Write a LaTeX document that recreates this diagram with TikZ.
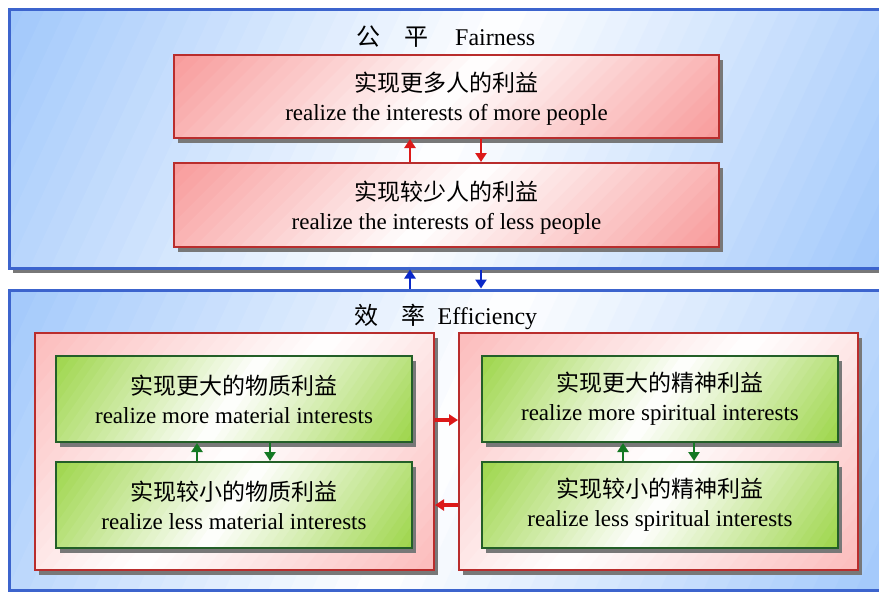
\documentclass[tikz,border=0pt]{standalone}
\usepackage{fontspec}
\setmainfont{Liberation Serif}
\newfontfamily\cjk{Noto Sans CJK SC}
\usetikzlibrary{arrows.meta}
\definecolor{bluebd}{RGB}{60,100,205}
\definecolor{lightblue}{RGB}{135,185,250}
\definecolor{redbd}{RGB}{185,45,45}
\definecolor{redfill}{RGB}{245,110,110}
\definecolor{pinkfill}{RGB}{250,160,160}
\definecolor{greenbd}{RGB}{35,95,40}
\definecolor{greenfill}{RGB}{125,200,15}
\definecolor{arrred}{RGB}{220,25,25}
\definecolor{arrblue}{RGB}{10,40,200}
\definecolor{arrgreen}{RGB}{20,120,35}
\definecolor{shadowc}{RGB}{120,120,120}
\tikzset{
  outerbox/.style={draw=bluebd,line width=3pt,rectangle,inner sep=0pt},
  redbox/.style={draw=redbd,line width=2pt,rectangle,align=center,inner sep=0pt},
  container/.style={draw=redbd,line width=2pt,rectangle,inner sep=0pt},
  greenbox/.style={draw=greenbd,line width=2pt,rectangle,align=center,inner sep=0pt},
  txt/.style={font=\fontsize{23}{29}\selectfont},
  ttl/.style={font=\fontsize{24}{28}\selectfont,inner sep=0pt},
  redarr/.style={draw=arrred,line width=2.5pt,-{Triangle[width=11pt,length=9pt]}},
  bluearr/.style={draw=arrblue,line width=2.5pt,-{Triangle[width=11pt,length=9pt]}},
  greenarr/.style={draw=arrgreen,line width=2.5pt,-{Triangle[width=11pt,length=9pt]}},
}
% #1 name, #2 x1, #3 y1, #4 x2, #5 y2, #6 colour, #7 angle, #8 style, #9 text
\newcommand\gbox[9]{%
  \pgfmathsetmacro\gbx{(#2+#4)/2}%
  \pgfmathsetmacro\gby{(#3+#5)/2}%
  \pgfmathsetmacro\gbw{#4-#2}%
  \pgfmathsetmacro\gbh{#5-#3}%
  \pgfmathsetmacro\gbL{(\gbw+\gbh)/2+4}%
  \pgfmathsetmacro\gbd{2*\gbL/60}%
  \fill[shadowc] (#2+4,#3+5) rectangle (#4+4,#5+5);
  \begin{scope}
    \clip (#2,#3) rectangle (#4,#5);
    \foreach \i in {0,...,59}{%
      \pgfmathsetmacro\gp{100*abs(1-(2*\i+1)/60)}%
      \pgfmathsetmacro\gs{-\gbL+\gbd*\i}%
      \fill[#6!\gp!white, rotate around={#7:(\gbx,\gby)}]
        (\gbx+\gs,\gby-\gbL) rectangle (\gbx+\gs+\gbd+0.8,\gby+\gbL);
    }
  \end{scope}
  \node[#8,minimum width=\gbw pt,minimum height=\gbh pt] (#1) at (\gbx,\gby) {#9};
}
\begin{document}
\begin{tikzpicture}[x=1pt,y=-1pt]
\useasboundingbox (0,0) rectangle (879,592);
\fill[white] (0,0) rectangle (879,592);
\gbox{topbox}{9}{9}{885}{268}{lightblue}{-25}{outerbox}{}
\gbox{botbox}{9}{290}{885}{590}{lightblue}{-25}{outerbox}{}
\node[ttl] (t1) at (446,37) {\cjk 公\hspace{1em}平\hspace{1.1em}\rmfamily Fairness};
\node[ttl] (t2) at (446,317) {\cjk 效\hspace{0.95em}率\hspace{0.5em}\rmfamily Efficiency};
\gbox{r1}{174}{55}{719}{138}{redfill}{-45}{redbox,txt,text depth=-3pt}{{\cjk 实现更多人的利益}\\realize the interests of more people}
\gbox{r2}{174}{163}{719}{247}{redfill}{-45}{redbox,txt,text depth=-3pt}{{\cjk 实现较少人的利益}\\realize the interests of less people}
\gbox{lc}{35}{333}{434}{570}{pinkfill}{-40}{container}{}
\gbox{rc}{459}{333}{858}{570}{pinkfill}{-40}{container}{}
\gbox{g1}{56}{356}{412}{442}{greenfill}{-35}{greenbox,txt}{{\cjk 实现更大的物质利益}\\realize more material interests}
\gbox{g2}{56}{462}{412}{548}{greenfill}{-35}{greenbox,txt}{{\cjk 实现较小的物质利益}\\realize less material interests}
\gbox{g3}{482}{356}{838}{442}{greenfill}{-35}{greenbox,txt}{{\cjk 实现更大的精神利益}\\realize more spiritual interests}
\gbox{g4}{482}{462}{838}{548}{greenfill}{-35}{greenbox,txt}{{\cjk 实现较小的精神利益}\\realize less spiritual interests}
% red arrows in top
\draw[redarr] ([xshift=-36.5pt]r2.north) -- ([xshift=-36.5pt]r1.south);
\draw[redarr] ([xshift=34.5pt]r1.south) -- ([xshift=34.5pt]r2.north);
% blue arrows
\draw[bluearr] ([xshift=-37pt]botbox.north) -- ([xshift=-37pt]topbox.south);
\draw[bluearr] ([xshift=34pt]topbox.south) -- ([xshift=34pt]botbox.north);
% green arrows
\draw[greenarr] ([xshift=-37pt]g2.north) -- ([xshift=-37pt]g1.south);
\draw[greenarr] ([xshift=36pt]g1.south) -- ([xshift=36pt]g2.north);
\draw[greenarr] ([xshift=-37pt]g4.north) -- ([xshift=-37pt]g3.south);
\draw[greenarr] ([xshift=34pt]g3.south) -- ([xshift=34pt]g4.north);
% red horizontal arrows
\draw[redarr,line width=3.5pt] ([yshift=31.5pt]lc.east) -- ([yshift=31.5pt]rc.west);
\draw[redarr,line width=3.5pt] ([yshift=-53.5pt]rc.west) -- ([yshift=-53.5pt]lc.east);
\end{tikzpicture}
\end{document}
